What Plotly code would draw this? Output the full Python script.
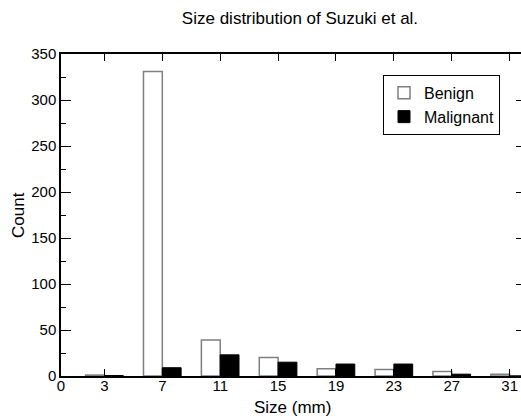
import plotly.graph_objects as go

sizes = [3, 7, 11, 15, 19, 23, 27, 31]
benign = [1, 331, 39, 20, 8, 7, 5, 2]
malignant = [0.5, 9, 23, 15, 13, 13, 2, 0]
xtick_vals = [0, 3, 7, 11, 15, 19, 23, 27, 31]

font = "Liberation Sans, Arial, Helvetica, sans-serif"

fig = go.Figure()
fig.add_trace(go.Bar(x=sizes, y=benign, name="Benign",
                     marker=dict(color="white", line=dict(color="#7f7f7f", width=1.5))))
fig.add_trace(go.Bar(x=sizes, y=malignant, name="Malignant",
                     marker=dict(color="black", line=dict(color="black", width=1))))

fig.update_layout(
    width=526, height=419,
    margin=dict(l=61, r=0, t=54, b=43, autoexpand=False),
    paper_bgcolor="white", plot_bgcolor="white",
    barmode="group", bargap=0.35, bargroupgap=0,
    font=dict(family=font, size=14, color="black"),
    title=dict(text="Size distribution of Suzuki et al.", x=0.5703, xanchor="center",
               y=0.957, yanchor="middle", font=dict(size=17)),
    legend=dict(x=0.6925, y=0.935, xanchor="left", yanchor="top",
                bordercolor="black", borderwidth=1, bgcolor="white",
                font=dict(size=16), tracegroupgap=0, itemwidth=30),
    showlegend=True,
    annotations=[
        dict(text="Count", xref="paper", yref="paper", x=-0.0925, y=0.5,
             xanchor="center", yanchor="middle", textangle=-90, showarrow=False,
             font=dict(size=17)),
        dict(text="Size (mm)", xref="paper", yref="paper", x=0.497, y=-0.099,
             xanchor="center", yanchor="middle", showarrow=False,
             font=dict(size=17)),
    ],
)
fig.update_xaxes(
    range=[0, 32.13], tickvals=xtick_vals, ticktext=[str(v) for v in xtick_vals],
    showline=True, linecolor="black", linewidth=1.5, mirror="ticks",
    ticks="inside", ticklen=7, tickcolor="black", showgrid=False, zeroline=False,
    tickfont=dict(size=15), automargin=False, ticklabeloverflow="allow",
    ticklabelstandoff=-5,
)
fig.update_yaxes(
    range=[0, 350], dtick=50,
    showline=True, linecolor="black", linewidth=1.5, mirror="ticks",
    ticks="inside", ticklen=10, tickcolor="black", showgrid=False, zeroline=False,
    minor=dict(dtick=25, ticks="inside", ticklen=5, tickcolor="black", showgrid=False),
    tickfont=dict(size=15), automargin=False,
)

fig.write_html(
    "out.html",
    config={"displayModeBar": False},
    post_script="document.body.style.margin='0';document.body.style.overflow='hidden';",
)
